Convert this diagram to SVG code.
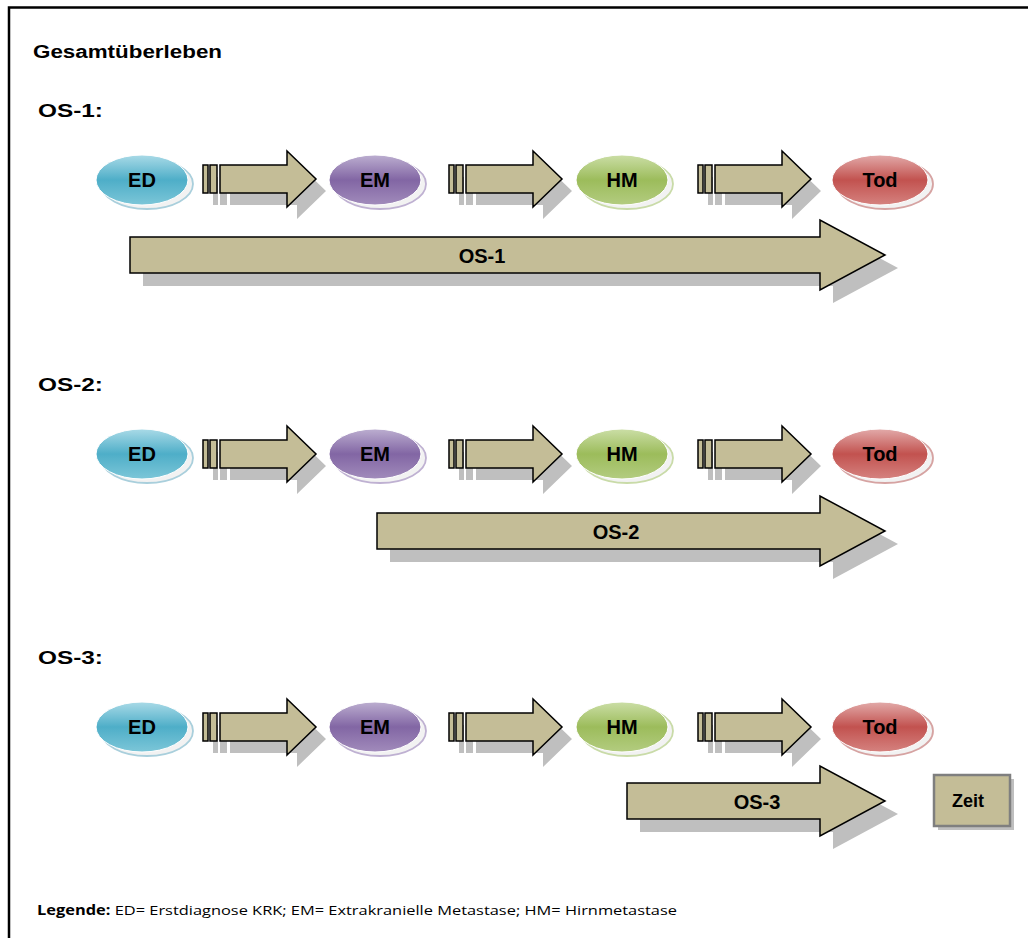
<svg xmlns="http://www.w3.org/2000/svg" xmlns:xlink="http://www.w3.org/1999/xlink" width="1028" height="938" viewBox="0 0 1028 938">
<style>
  .hdr{font-family:"Liberation Sans",Arial,sans-serif;font-weight:bold;fill:#000}
  .lbl{font-family:"Liberation Sans",Arial,sans-serif;font-weight:bold;font-size:20px;fill:#000;text-anchor:middle;dominant-baseline:central}
  .tan{fill:#c4bd97;stroke:#000;stroke-width:1.5}
  .sh{fill:#bfbfbf;stroke:none}
  .rim{fill:#f2f2f2;stroke-width:1.8}
  .legend{font-family:"Open Sans","Liberation Sans",sans-serif;font-size:13.5px;fill:#000}
</style>
<defs>
  <g id="sa">
    <rect x="0" y="-14" width="5" height="28"/>
    <rect x="7" y="-14" width="7" height="28"/>
    <path d="M17,-14 H84 V-28 L113,0 L84,28 V14 H17 Z"/>
  </g>
  <linearGradient id="gED" x1="0" y1="0" x2="0" y2="1">
    <stop offset="0" stop-color="#a9dae7"/><stop offset="0.5" stop-color="#4eaec8"/><stop offset="1" stop-color="#7cc6d8"/>
  </linearGradient>
  <linearGradient id="gEM" x1="0" y1="0" x2="0" y2="1">
    <stop offset="0" stop-color="#bcaed0"/><stop offset="0.5" stop-color="#8266a4"/><stop offset="1" stop-color="#a18bbb"/>
  </linearGradient>
  <linearGradient id="gHM" x1="0" y1="0" x2="0" y2="1">
    <stop offset="0" stop-color="#cbdea6"/><stop offset="0.5" stop-color="#9cbc5b"/><stop offset="1" stop-color="#b3cc80"/>
  </linearGradient>
  <linearGradient id="gTod" x1="0" y1="0" x2="0" y2="1">
    <stop offset="0" stop-color="#e2aaa9"/><stop offset="0.5" stop-color="#c2524f"/><stop offset="1" stop-color="#d5827f"/>
  </linearGradient>
</defs>

<rect x="9" y="7.5" width="1100" height="1000" fill="#fff" stroke="#000" stroke-width="2.5"/>

<text class="hdr" x="33" y="58" font-size="18" textLength="189" lengthAdjust="spacingAndGlyphs">Gesamtüberleben</text>
<text class="hdr" x="38" y="117" font-size="19" textLength="65" lengthAdjust="spacingAndGlyphs">OS-1:</text>
<text class="hdr" x="38" y="391" font-size="19" textLength="65" lengthAdjust="spacingAndGlyphs">OS-2:</text>
<text class="hdr" x="38" y="664" font-size="19" textLength="65" lengthAdjust="spacingAndGlyphs">OS-3:</text>

<!-- connectors: small progression arrows -->
<g id="connectors">
  <g class="sh">
    <use xlink:href="#sa" x="213" y="191"/>
    <use xlink:href="#sa" x="459" y="191"/>
    <use xlink:href="#sa" x="708" y="191"/>
    <use xlink:href="#sa" x="213" y="466"/>
    <use xlink:href="#sa" x="459" y="466"/>
    <use xlink:href="#sa" x="708" y="466"/>
    <use xlink:href="#sa" x="213" y="739"/>
    <use xlink:href="#sa" x="459" y="739"/>
    <use xlink:href="#sa" x="708" y="739"/>
  </g>
  <g class="tan">
    <use xlink:href="#sa" x="203" y="179"/>
    <use xlink:href="#sa" x="449" y="179"/>
    <use xlink:href="#sa" x="698" y="179"/>
    <use xlink:href="#sa" x="203" y="454"/>
    <use xlink:href="#sa" x="449" y="454"/>
    <use xlink:href="#sa" x="698" y="454"/>
    <use xlink:href="#sa" x="203" y="727"/>
    <use xlink:href="#sa" x="449" y="727"/>
    <use xlink:href="#sa" x="698" y="727"/>
  </g>
</g>

<!-- Row 1 nodes -->
<g id="ED1"><ellipse class="rim" cx="147" cy="184" rx="46" ry="25" stroke="#a9cfdc"/><ellipse cx="142" cy="180" rx="46" ry="25" fill="url(#gED)" stroke="#fff" stroke-width="1"/><text class="lbl" x="142" y="180">ED</text></g>
<g id="EM1"><ellipse class="rim" cx="380" cy="184" rx="46" ry="25" stroke="#bfb1d2"/><ellipse cx="375" cy="180" rx="46" ry="25" fill="url(#gEM)" stroke="#fff" stroke-width="1"/><text class="lbl" x="375" y="180">EM</text></g>
<g id="HM1"><ellipse class="rim" cx="627" cy="184" rx="46" ry="25" stroke="#c9dba8"/><ellipse cx="622" cy="180" rx="46" ry="25" fill="url(#gHM)" stroke="#fff" stroke-width="1"/><text class="lbl" x="622" y="180">HM</text></g>
<g id="Tod1"><ellipse class="rim" cx="885" cy="184" rx="48" ry="25" stroke="#d6a3a2"/><ellipse cx="880" cy="180" rx="48" ry="25" fill="url(#gTod)" stroke="#fff" stroke-width="1"/><text class="lbl" x="880" y="180">Tod</text></g>

<!-- Row 2 nodes -->
<g id="ED2"><ellipse class="rim" cx="147" cy="458" rx="46" ry="25" stroke="#a9cfdc"/><ellipse cx="142" cy="454" rx="46" ry="25" fill="url(#gED)" stroke="#fff" stroke-width="1"/><text class="lbl" x="142" y="454">ED</text></g>
<g id="EM2"><ellipse class="rim" cx="380" cy="458" rx="46" ry="25" stroke="#bfb1d2"/><ellipse cx="375" cy="454" rx="46" ry="25" fill="url(#gEM)" stroke="#fff" stroke-width="1"/><text class="lbl" x="375" y="454">EM</text></g>
<g id="HM2"><ellipse class="rim" cx="627" cy="458" rx="46" ry="25" stroke="#c9dba8"/><ellipse cx="622" cy="454" rx="46" ry="25" fill="url(#gHM)" stroke="#fff" stroke-width="1"/><text class="lbl" x="622" y="454">HM</text></g>
<g id="Tod2"><ellipse class="rim" cx="885" cy="458" rx="48" ry="25" stroke="#d6a3a2"/><ellipse cx="880" cy="454" rx="48" ry="25" fill="url(#gTod)" stroke="#fff" stroke-width="1"/><text class="lbl" x="880" y="454">Tod</text></g>

<!-- Row 3 nodes -->
<g id="ED3"><ellipse class="rim" cx="147" cy="731" rx="46" ry="25" stroke="#a9cfdc"/><ellipse cx="142" cy="727" rx="46" ry="25" fill="url(#gED)" stroke="#fff" stroke-width="1"/><text class="lbl" x="142" y="727">ED</text></g>
<g id="EM3"><ellipse class="rim" cx="380" cy="731" rx="46" ry="25" stroke="#bfb1d2"/><ellipse cx="375" cy="727" rx="46" ry="25" fill="url(#gEM)" stroke="#fff" stroke-width="1"/><text class="lbl" x="375" y="727">EM</text></g>
<g id="HM3"><ellipse class="rim" cx="627" cy="731" rx="46" ry="25" stroke="#c9dba8"/><ellipse cx="622" cy="727" rx="46" ry="25" fill="url(#gHM)" stroke="#fff" stroke-width="1"/><text class="lbl" x="622" y="727">HM</text></g>
<g id="Tod3"><ellipse class="rim" cx="885" cy="731" rx="48" ry="25" stroke="#d6a3a2"/><ellipse cx="880" cy="727" rx="48" ry="25" fill="url(#gTod)" stroke="#fff" stroke-width="1"/><text class="lbl" x="880" y="727">Tod</text></g>

<!-- OS span arrows -->
<g id="OS1">
  <path class="sh" d="M143,250 H833 V233 L898,268 L833,303 V286 H143 Z"/>
  <path class="tan" d="M130,237 H820 V220 L885,255 L820,290 V273 H130 Z"/>
  <text class="lbl" x="482" y="256">OS-1</text>
</g>
<g id="OS2">
  <path class="sh" d="M390,526 H833 V509 L898,544 L833,579 V562 H390 Z"/>
  <path class="tan" d="M377,513 H820 V496 L885,531 L820,566 V549 H377 Z"/>
  <text class="lbl" x="616" y="532">OS-2</text>
</g>
<g id="OS3">
  <path class="sh" d="M640,796 H833 V779 L898,814 L833,849 V832 H640 Z"/>
  <path class="tan" d="M627,783 H820 V766 L885,801 L820,836 V819 H627 Z"/>
  <text class="lbl" x="757" y="802">OS-3</text>
</g>

<g id="Zeit">
  <rect x="938" y="779" width="76" height="51" class="sh"/>
  <rect x="934" y="775" width="76" height="51" fill="#c4bd97" stroke="#7f7f7f" stroke-width="2.5"/>
  <text class="lbl" x="968" y="801" style="font-size:18px">Zeit</text>
</g>

<text class="legend" x="37" y="915" textLength="640" lengthAdjust="spacingAndGlyphs"><tspan font-weight="bold">Legende:</tspan> ED= Erstdiagnose KRK; EM= Extrakranielle Metastase; HM= Hirnmetastase</text>
</svg>
